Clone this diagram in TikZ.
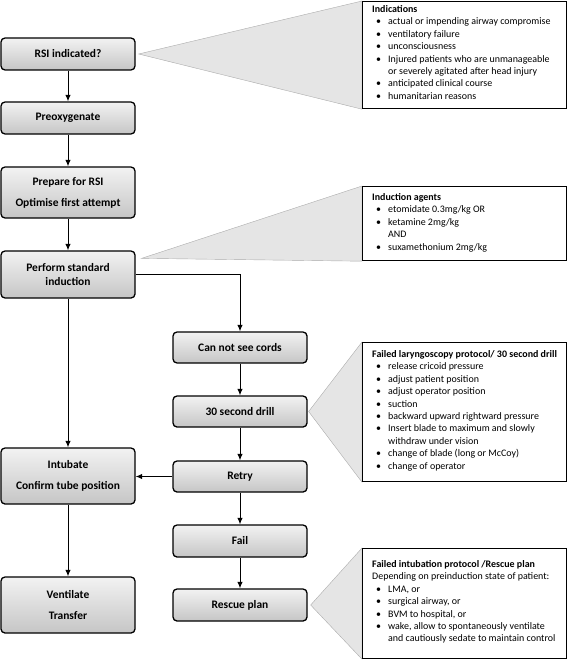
\documentclass[tikz,border=0pt]{standalone}
\usepackage{fontspec}
\setmainfont{Carlito}
\usetikzlibrary{positioning}
\usetikzlibrary{arrows.meta, backgrounds}

\newcommand{\bul}{\hspace*{4bp}\makebox[12bp][l]{\textbullet}}
\newcommand{\cont}{\hspace*{16bp}}

\tikzset{
  stepbox/.style={rectangle, rounded corners=4bp, draw=black, line width=1.3bp,
    top color=gray!10, middle color=gray!5, bottom color=gray!45,
    minimum width=134bp, align=center, inner sep=2bp,
    font=\fontsize{11.5}{14}\selectfont\bfseries},
  flow/.style={-{Latex[length=6.5bp,width=5.5bp]}, line width=1bp},
  notebox/.style={rectangle, draw=black, line width=1.2bp, fill=white,
    anchor=north west, minimum width=204bp},
  notetext/.style={anchor=north west, align=left, inner sep=0pt,
    font=\fontsize{10}{12.5}\selectfont},
  wedge/.style={fill=gray!20, draw=gray!65, line width=0.4bp},
}

\begin{document}
\begin{tikzpicture}[x=1bp,y=-1bp]
\useasboundingbox (0,0) rectangle (567,661);

% main column
\node[stepbox, minimum height=32bp] (rsi) at (68,54) {RSI indicated?};
\node[stepbox, minimum height=32bp] (preox) at (68,118) {Preoxygenate};
\node[stepbox, minimum height=51bp] (prep) at (68,192.5) {Prepare for RSI\\[7bp]Optimise first attempt};
\node[stepbox, minimum height=47bp] (induct) at (68,274.5) {Perform standard\\induction};
\node[stepbox, minimum height=56bp] (intub) at (68,476) {Intubate\\[7bp]Confirm tube position};
\node[stepbox, minimum height=56bp] (vent) at (68,605) {Ventilate\\[7bp]Transfer};

% failed laryngoscopy column
\node[stepbox, minimum height=31bp] (cords) at (240,347.5) {Can not see cords};
\node[stepbox, minimum height=31bp] (drill) at (240,411.5) {30 second drill};
\node[stepbox, minimum height=31bp] (retry) at (240,476.5) {Retry};
\node[stepbox, minimum height=32bp] (fail) at (240,541) {Fail};
\node[stepbox, minimum height=32bp] (rescue) at (240,605) {Rescue plan};

\draw[flow] (rsi) -- (preox);
\draw[flow] (preox) -- (prep);
\draw[flow] (prep) -- (induct);
\draw[flow] (induct) -- (intub);
\draw[flow] (intub) -- (vent);
\draw[flow] (induct.east) -| (cords.north);
\draw[flow] (cords) -- (drill);
\draw[flow] (drill) -- (retry);
\draw[flow] (retry.west) -- (retry.west -| intub.east);
\draw[flow] (retry) -- (fail);
\draw[flow] (fail) -- (rescue);

% notes
\node[notebox, minimum height=107bp] (indic) at (362,1) {};
\node[notebox, minimum height=74bp] (agents) at (362,186) {};
\node[notebox, minimum height=139bp] (drillnote) at (362,342) {};
\node[notebox, minimum height=110bp] (rescnote) at (362,548) {};

\begin{scope}[on background layer]
\draw[wedge] ([xshift=3bp]rsi.east) -- (indic.north west) -- (indic.south west) -- cycle;
\draw[wedge] ([shift={(6,8)}]induct.north east) -- (agents.north west) -- (agents.south west) -- cycle;
\draw[wedge] ([xshift=1bp]drill.east) -- (drillnote.north west) -- (drillnote.south west) -- cycle;
\draw[wedge] ([xshift=3bp]rescue.east) -- (rescnote.north west) -- (rescnote.south west) -- cycle;
\end{scope}

\node[notetext] (indictext) at ([shift={(10,4)}]indic.north west) {\textbf{Indications}\\
\bul actual or impending airway compromise\\
\bul ventilatory failure\\
\bul unconsciousness\\
\bul Injured patients who are unmanageable\\
\cont or severely agitated after head injury\\
\bul anticipated clinical course\\
\bul humanitarian reasons};

\node[notetext] (agentstext) at ([shift={(10,7)}]agents.north west) {\textbf{Induction agents}\\
\bul etomidate 0.3mg/kg OR\\
\bul ketamine 2mg/kg\\
\cont AND\\
\bul suxamethonium 2mg/kg};

\node[notetext] (drilltext) at ([shift={(10,8)}]drillnote.north west) {\textbf{Failed laryngoscopy protocol/ 30 second drill}\\
\bul release cricoid pressure\\
\bul adjust patient position\\
\bul adjust operator position\\
\bul suction\\
\bul backward upward rightward pressure\\
\bul Insert blade to maximum and slowly\\
\cont withdraw under vision\\
\bul change of blade (long or McCoy)\\
\bul change of operator};

\node[notetext] (resctext) at ([shift={(10,12)}]rescnote.north west) {\textbf{Failed intubation protocol /Rescue plan}\\
Depending on preinduction state of patient:\\
\bul LMA, or\\
\bul surgical airway, or\\
\bul BVM to hospital, or\\
\bul wake, allow to spontaneously ventilate\\
\cont and cautiously sedate to maintain control};

\end{tikzpicture}
\end{document}
